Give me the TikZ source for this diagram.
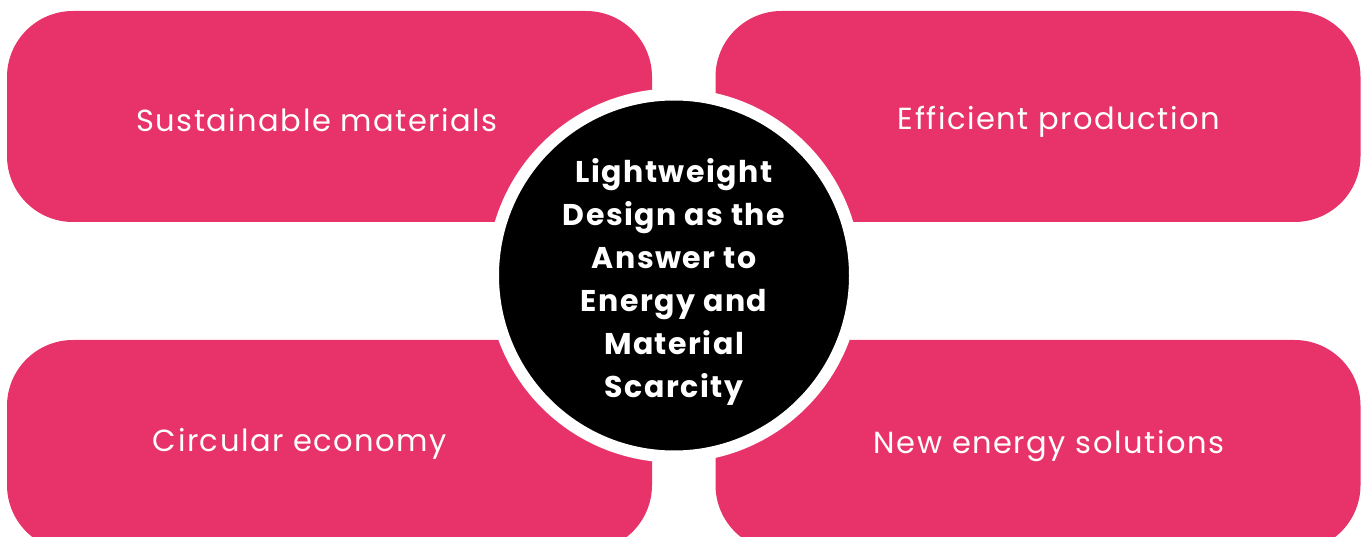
\documentclass[tikz,border=0pt]{standalone}
\usepackage{fontspec}
\setmainfont{Poppins}
\definecolor{rosered}{HTML}{E7336A}
\tikzset{
  petal/.style={fill=rosered, rounded corners=66pt, minimum width=645pt, minimum height=211pt, inner sep=0pt},
  petaltext/.style={text=white, font=\fontsize{30.5}{36}\selectfont\addfontfeature{LetterSpace=5}},
  hub/.style={circle, fill=black, draw=white, line width=12pt, minimum size=362pt, inner sep=0pt},
  hubtext/.style={text=white, align=center, font=\bfseries\fontsize{30}{43}\selectfont\addfontfeature{LetterSpace=5}}
}
\begin{document}
\begin{tikzpicture}[x=1pt,y=-1pt]
  \useasboundingbox (0,0) rectangle (1363,537);
  \clip (0,0) rectangle (1363,537);
  \node[petal] (tl) at (329.5,116.5) {};
  \node[petal] (tr) at (1038,116.5) {};
  \node[petal] (bl) at (329.5,445.5) {};
  \node[petal] (br) at (1038,445.5) {};
  \node[petaltext] (tltext) at (317,120) {Sustainable materials};
  \node[petaltext] (trtext) at (1059,122) {Efficient production};
  \node[petaltext] (bltext) at (300,444) {Circular economy};
  \node[petaltext] (brtext) at (1049,446) {New energy solutions};
  \node[hub] (core) at (674,275.5) {};
  \node[hubtext] at ([yshift=-6pt]core) {Lightweight\\Design as the\\Answer to\\Energy and\\Material\\Scarcity};
\end{tikzpicture}
\end{document}
